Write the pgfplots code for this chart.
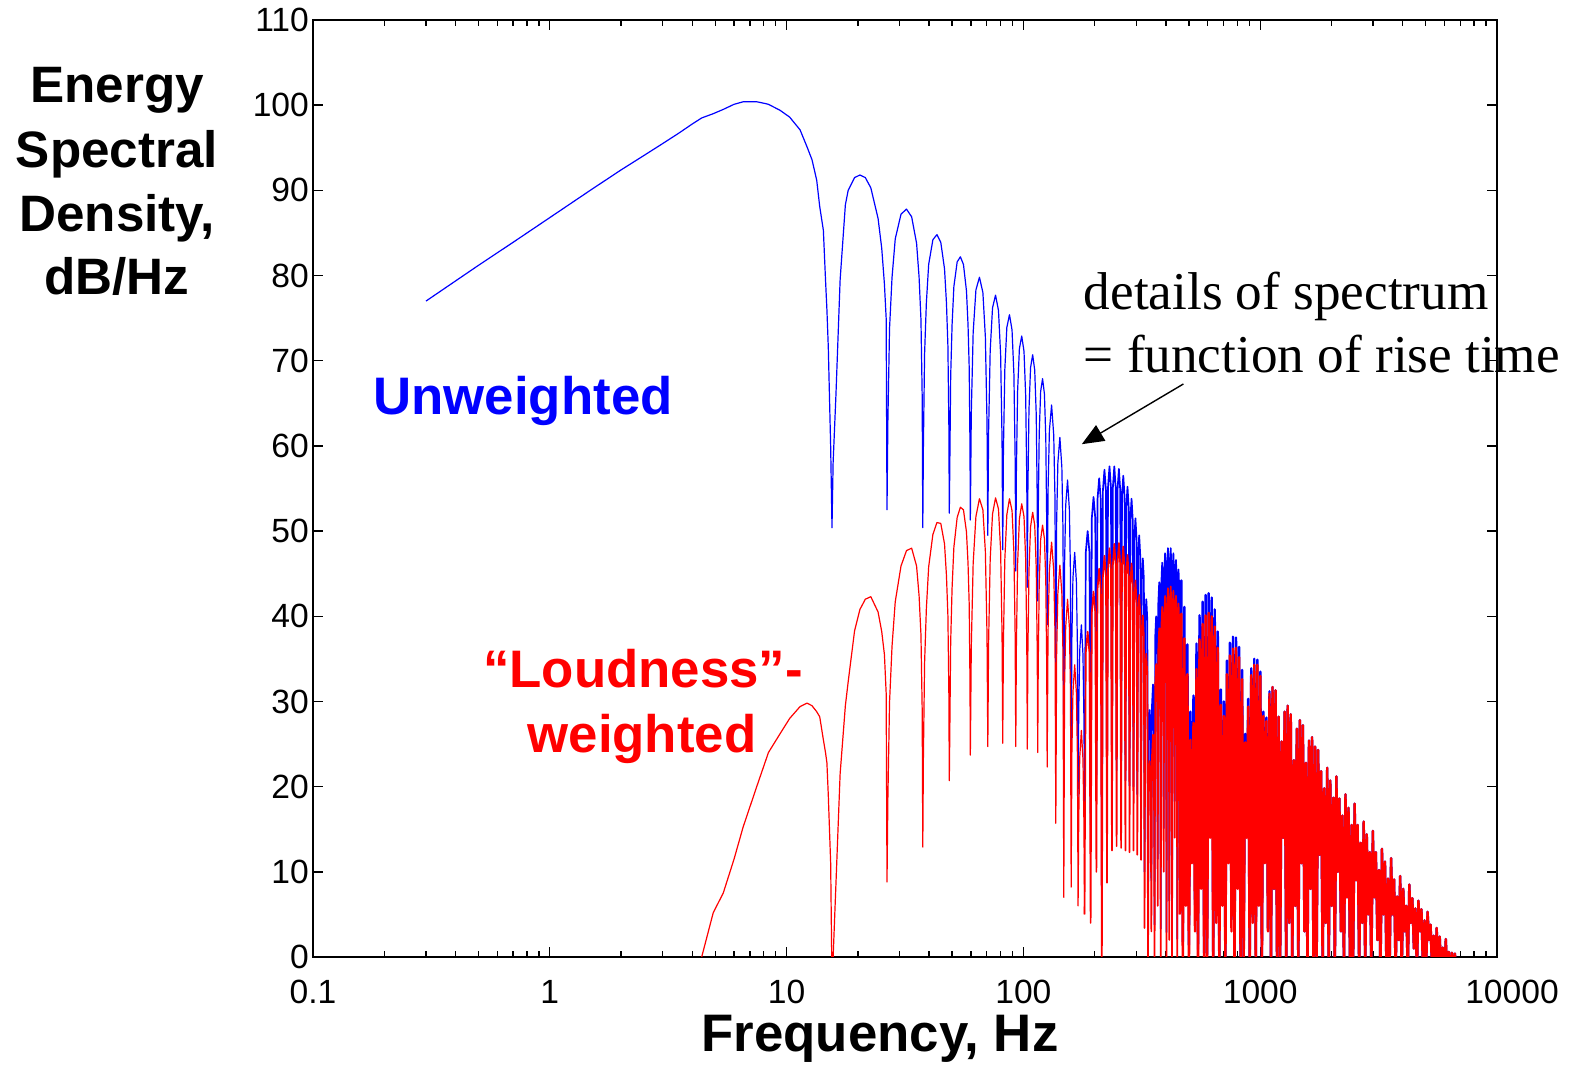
\documentclass[border=0pt]{standalone}
\usepackage{fontspec}
\setmainfont{Liberation Sans}
\newfontfamily\timesfont{Liberation Serif}
\usepackage{pgfplots}
\usepackage{pgfplotstable}
\pgfplotsset{compat=1.18}
\usetikzlibrary{arrows.meta}

% f = frequency (Hz), b = unweighted (dB/Hz), r = loudness-weighted (dB/Hz)
\pgfplotstableread{
f b r
0.3 77.0 nan
0.5 81.2 nan
0.7 83.9 nan
1 86.8 nan
1.5 90.1 nan
2 92.4 nan
2.5 94.1 nan
3 95.5 nan
3.5 96.7 nan
4 97.8 nan
4.38 98.5 0
4.9 99.0 5.2
5.4 99.5 7.5
6.0 100.1 11.5
6.56 100.4 15.3
7.48 100.4 20.0
8.1 100.2 22.8
8.38 100.1 24.0
9.38 99.4 26.2
10.3 98.6 28.0
11.4 97.1 29.4
12.2 95.1 29.8
12.8 93.6 29.5
13.4 91.2 28.8
13.8 88.1 28.2
14.3 85.3 25.5
14.6 79.5 24.0
14.8 76.0 22.8
15.0 71.6 19.0
15.35 59.9 11.0
15.55 50.4 -3
15.72 58.0 -0.1
16.16 66.0 8.6
16.83 79.5 21.5
17.71 88.3 29.5
18.2 90.0 32.3
19.37 91.5 38.3
20.4 91.8 40.8
21.5 91.5 42.0
22.68 90.3 42.3
24.34 86.7 40.5
25.22 83.2 38.2
25.89 79.0 35.5
26.33 75.0 31.0
26.55 52.5 8.8
26.77 62.8 18.5
27.21 73.8 29.9
27.88 79.8 36.5
28.76 84.3 41.7
30.42 87.2 45.9
32.08 87.8 47.7
33.73 86.9 48.0
35.39 83.8 45.9
36.27 79.8 42.4
36.94 74.8 37.8
37.38 65.8 29.0
37.6 50.4 12.9
37.82 59.8 23.3
38.26 70.8 34.5
38.93 76.8 40.9
39.81 81.3 45.8
41.47 84.2 49.6
43.13 84.8 51.0
44.78 83.9 50.9
46.44 80.8 48.5
47.32 76.8 44.8
47.99 71.8 40.1
48.43 62.8 31.3
48.65 52.1 20.7
48.87 57.2 25.9
49.31 68.2 37.0
49.98 74.2 43.3
50.86 78.7 48.1
52.52 81.6 51.6
54.18 82.2 52.8
55.83 81.3 52.5
57.49 78.2 49.9
58.37 74.2 46.2
59.04 69.2 41.4
59.48 60.2 32.5
59.7 51.3 23.7
60.25 63.8 36.4
61.36 73.3 46.2
63.02 78.3 51.7
65.23 79.8 53.8
67.44 78.0 52.5
69.09 72.8 47.6
70.2 62.8 37.9
70.75 49.5 24.7
71.3 61.7 37.0
72.41 71.2 46.7
74.07 76.2 52.0
76.28 77.7 53.9
78.49 75.9 52.6
80.14 70.7 47.7
81.25 60.7 37.9
81.8 47.8 25.1
82.35 59.4 36.9
83.46 68.9 46.6
85.12 73.9 51.9
87.33 75.4 53.8
89.54 73.6 52.4
91.19 68.4 47.5
92.3 58.4 37.7
92.85 45.3 24.7
93.4 56.9 36.4
94.51 66.4 46.1
96.17 71.4 51.4
98.38 72.9 53.2
100.59 71.1 51.7
102.24 65.9 46.7
103.35 55.9 36.8
103.9 43.4 24.4
104.45 54.7 35.7
105.56 64.2 45.3
107.22 69.2 50.5
109.43 70.7 52.2
111.64 68.9 50.7
113.29 63.7 45.7
114.4 53.7 35.8
114.95 41.8 24.0
115.5 51.9 34.1
116.61 61.4 43.8
118.27 66.4 49.0
120.48 67.9 50.7
122.69 66.1 49.1
124.34 60.9 44.1
125.45 50.9 34.2
126.0 39.0 22.3
127.1 54.8 38.3
128.76 61.8 45.4
131.53 64.8 48.7
134.29 61.3 45.4
135.95 53.8 38.1
137.05 31.3 15.7
138.15 51.0 35.5
139.81 58.0 42.7
142.58 61.0 46.0
145.34 57.5 42.7
147.0 50.0 35.4
148.1 21.5 7.0
149.2 46.0 31.6
150.86 53.0 38.7
153.63 56.0 42.0
156.39 52.5 38.7
158.05 45.0 31.3
159.15 21.8 8.2
160.25 37.5 24.0
161.91 44.5 31.1
164.68 47.5 34.3
167.44 44.0 31.0
169.1 36.5 23.6
170.2 18.8 6.0
171.3 29.0 16.3
172.96 36.0 23.4
175.73 39.0 26.6
178.49 35.5 23.2
180.15 28.0 15.8
181.25 17.1 5.0
}\specA

\pgfplotstableread{
f b r
181.25 17.1 5.0
183.45 47.5 35.7
186.78 50.0 38.2
190.1 47.5 35.7
192.3 15.5 4.0
194.5 51.5 40.4
197.83 54.0 42.9
201.15 51.5 40.4
203.35 20.9 10.0
205.55 53.7 43.1
208.88 56.2 45.6
212.2 53.7 43.1
214.4 8.3 -2
216.6 54.7 44.6
219.93 57.2 47.1
223.25 54.7 44.6
225.45 18.5 8.7
227.65 55.1 45.5
230.98 57.6 48.0
234.3 55.1 45.5
236.5 21.9 12.5
238.7 55.1 46.0
242.03 57.6 48.5
245.35 55.1 46.0
247.55 21.9 13.0
249.75 54.8 46.1
253.08 57.3 48.6
256.4 54.8 46.1
258.6 21.3 12.8
260.8 54.0 45.7
264.13 56.5 48.2
267.45 54.0 45.7
269.65 20.7 12.5
271.85 52.7 44.7
275.18 55.2 47.2
278.5 52.7 44.7
280.7 20.1 12.3
282.9 51.3 43.7
286.23 53.8 46.2
289.55 51.3 43.7
291.75 20.0 12.5
293.95 49.0 41.7
297.28 51.5 44.2
300.6 49.0 41.7
302.8 19.1 12.0
305.0 47.0 40.0
308.33 49.5 42.5
311.65 47.0 40.0
313.85 18.3 11.4
316.05 44.3 37.6
319.38 46.8 40.1
322.7 44.3 37.6
324.9 10.0 3.4
327.1 39.5 33.1
330.43 42.0 35.6
333.75 39.5 33.1
335.95 4.3 -2
338.15 26.5 20.5
341.48 29.0 23.0
344.8 26.5 20.5
347.0 9.0 3.0
349.2 29.5 23.6
352.53 32.0 26.1
355.85 29.5 23.6
358.05 3.8 -2
360.25 37.5 31.9
363.58 40.0 34.4
366.9 37.5 31.9
369.1 11.5 6.0
371.3 41.5 36.1
374.63 44.0 38.6
377.95 41.5 36.1
380.15 3.3 -2
382.35 43.8 38.6
385.68 46.3 41.1
389.0 43.8 38.6
391.2 15.1 10.0
393.4 44.9 39.9
396.73 47.4 42.4
400.05 44.9 39.9
402.25 2.9 -2
404.45 45.5 40.8
407.78 48.0 43.3
411.1 45.5 40.8
413.3 6.6 2.0
415.5 45.5 41.0
418.83 48.0 43.5
422.15 45.5 41.0
424.35 2.5 -2
426.55 44.9 40.5
429.88 47.4 43.0
433.2 44.9 40.5
435.4 18.3 14.0
437.6 44.1 39.9
440.93 46.6 42.4
444.25 44.1 39.9
446.45 2.1 -2
448.65 43.0 39.0
451.98 45.5 41.5
455.3 43.0 39.0
457.5 9.0 5.0
}\specB

\pgfplotstableread{
f b r
457.5 9.0 5.0
464.3 44.2 40.3
471.2 1.8 -2
478.2 41.1 37.4
485.4 9.6 6
492.6 36.7 33.2
500.0 1.4 -2
507.4 28.8 25.5
515.0 14.2 11
522.7 30.7 27.5
530.4 6.1 3
538.3 36.8 33.8
546.3 0.9 -2
554.4 40.1 37.3
562.7 10.7 8
571.1 41.7 39.1
579.6 0.5 -2
588.2 42.5 40.1
597.0 0.3 -2
605.9 42.7 40.4
614.9 16.2 14
624.1 42.2 40.0
633.3 0.1 -2
642.7 40.8 38.8
652.3 6.0 4
662.0 38.2 36.3
671.9 -0.2 -2
681.9 31.4 29.6
692.1 7.8 6
702.4 30.0 28.3
712.9 -0.4 -2
723.5 34.8 33.2
734.3 12.5 11
745.2 36.9 35.4
756.3 4.4 3
767.6 37.6 36.2
779.0 -0.7 -2
790.6 37.5 36.3
802.4 9.2 8
814.4 36.4 35.2
826.4 -0.9 -2
838.7 33.7 32.6
851.2 -1.0 -2
863.9 26.2 25.2
876.7 14.9 14
889.8 30.3 29.4
903.0 -1.2 -2
916.5 33.9 33.1
930.1 4.7 4
943.9 35.0 34.3
958.0 -1.4 -2
972.3 34.9 34.3
986.8 6.6 6
1001.5 33.5 33.0
1016.4 -1.5 -2
1031.5 28.8 28.3
1046.9 11.4 11
1062.5 28.1 27.7
1078.3 3.3 3
1094.4 31.2 30.9
1110.6 -1.8 -2
1127.1 31.7 31.7
1143.9 8 8
1160.9 31.3 31.3
1178.2 -2 -2
1195.8 28.2 28.2
1213.6 -2 -2
1231.7 25.3 25.3
1250.0 14 14
1268.6 28.8 28.8
1287.5 -2 -2
1306.7 29.5 29.5
1326.1 4 4
1345.9 28.5 28.5
1365.9 -2 -2
1386.3 23.1 23.1
1406.9 6 6
1427.9 26.8 26.8
1449.1 -2 -2
1470.7 27.8 27.8
1492.6 11 11
1514.8 27.2 27.2
1537.4 3 3
1560.3 22.8 22.8
1583.5 -2 -2
1607.1 25.4 25.4
1631.0 8 8
1655.3 25.8 25.8
1679.9 -2 -2
1704.9 24.7 24.7
1730.3 -2 -2
1756.1 24.3 24.3
1782.2 12 12
1808.8 21.8 21.8
1835.7 -2 -2
1863.1 19.8 19.8
1890.8 4 4
1919.0 22.2 22.2
1947.5 -2 -2
1976.5 20.7 20.7
2005.9 6 6
2035.8 18.7 18.7
2066.1 -2 -2
2096.9 21.2 21.2
2128.1 10 10
2159.8 18.6 18.6
2191.9 3 3
2224.6 16.6 16.6
2257.7 -2 -2
2291.3 19.1 19.1
2325.4 7 7
2360.0 17.5 17.5
2395.2 -2 -2
2430.9 15.5 15.5
2467.1 -2 -2
2503.9 18.0 18.0
2541.1 9 9
2579.0 15.5 15.5
2617.3 -2 -2
2656.3 13.4 13.4
2695.8 4 4
2736.0 15.9 15.9
2776.7 -2 -2
2818.1 14.4 14.4
2860.0 5 5
2902.6 12.3 12.3
2945.8 -2 -2
2989.7 14.8 14.8
3034.2 7 7
3079.4 12.3 12.3
3125.2 2 2
3171.8 10.2 10.2
3219.0 -2 -2
3267.0 12.7 12.7
3315.6 5 5
3365.0 11.2 11.2
3415.0 -2 -2
3465.9 9.2 9.2
3517.5 -2 -2
3569.9 11.6 11.6
3623.0 5 5
3677.0 9.1 9.1
3731.7 -2 -2
3787.3 7.1 7.1
3843.6 2 2
3900.9 9.5 9.5
3958.9 -2 -2
4017.9 8.0 8.0
4077.7 3 3
4138.5 6.0 6.0
4200.0 -2 -2
4262.6 8.5 8.5
4326.0 4 4
4390.5 6.9 6.9
4455.8 1 1
4522.2 5.7 5.7
4589.5 -2 -2
4657.9 6.6 6.6
4727.2 3 3
4797.6 5.6 5.6
4869.0 -2 -2
4941.5 4.3 4.3
5015.1 -2 -2
5089.8 5.3 5.3
5165.5 2 2
5242.5 3.8 3.8
5320.5 -2 -2
5399.8 2.5 2.5
5480.1 -2 -2
5561.8 3.4 3.4
5644.5 -2 -2
5728.6 2.4 2.4
5813.8 -2 -2
5900.4 1.1 1.1
5988.2 -2 -2
6077.4 2.1 2.1
6167.9 -2 -2
6259.8 0.6 0.6
6352.9 -2 -2
6447.6 0.5 0.5
6543.5 -2 -2
6641.0 0.4 0.4
6739.8 -2 -2
}\specC

\begin{document}
\begin{tikzpicture}
\useasboundingbox (-78.25pt,-27.75pt) rectangle (315.25pt,239.25pt);
\begin{axis}[
  at={(0pt,0pt)}, anchor=south west,
  scale only axis, width=296pt, height=234.25pt,
  xmode=log, xmin=0.1, xmax=10000, ymin=0, ymax=110,
  xtick={0.1,1,10,100,1000,10000},
  xticklabels={0.1,1,10,100,1000,\hspace*{7.5pt}10000},
  minor xtick={0.2,0.3,0.4,0.5,0.6,0.7,0.8,0.9,2,3,4,5,6,7,8,9,20,30,40,50,60,70,80,90,200,300,400,500,600,700,800,900,2000,3000,4000,5000,6000,7000,8000,9000},
  ytick={0,10,...,110},
  /pgf/number format/assume math mode=true,
  tick label style={font=\fontsize{8.4}{10}\selectfont},
  xticklabel style={yshift=-2.2pt},
  yticklabel style={xshift=2.5pt},
  major tick length=2.5pt, minor tick length=1.5pt,
  tick style={black, line width=0.35pt},
  axis line style={line width=0.5pt},
]
\addplot[blue, line width=0.3pt, line join=round, mark=none] table[x=f,y=b] {\specA};
\addplot[blue, line width=0.42pt, line join=round, mark=none] table[x=f,y=b] {\specB};
\addplot[blue, line width=0.6pt, line join=round, mark=none] table[x=f,y=b] {\specC};
\addplot[red, line width=0.3pt, line join=round, mark=none] table[x=f,y=r] {\specA};
\addplot[red, line width=0.42pt, line join=round, mark=none] table[x=f,y=r] {\specB};
\addplot[red, line width=0.6pt, line join=round, mark=none] table[x=f,y=r] {\specC};
\end{axis}
\begin{scope}[every node/.style={anchor=base, inner sep=0pt, font=\bfseries\fontsize{12.8}{16}\selectfont}]
\node at (-49pt,213.5pt) {Energy};
\node at (-49pt,197.25pt) {Spectral};
\node at (-49pt,181.25pt) {Density,};
\node at (-49pt,165.5pt) {dB/Hz};
\end{scope}
\node[anchor=base, inner sep=0pt, font=\bfseries\fontsize{13.2}{16}\selectfont] at (141.75pt,-23.75pt) {Frequency, Hz};
\node[anchor=base, inner sep=0pt, text=blue, font=\bfseries\fontsize{13.2}{16}\selectfont] at (52.5pt,135.5pt) {Unweighted};
\node[anchor=base, inner sep=0pt, text=red, font=\bfseries\fontsize{13.2}{16}\selectfont] at (82.5pt,67.25pt) {“Loudness”-};
\node[anchor=base, inner sep=0pt, text=red, font=\bfseries\fontsize{13.2}{16}\selectfont] at (82.25pt,51pt) {weighted};
\node[anchor=base west, inner sep=0pt, font=\timesfont\fontsize{13.3}{16}\selectfont] at (192.5pt,161.75pt) {details of spectrum};
\node[anchor=base west, inner sep=0pt, font=\timesfont\fontsize{13.3}{16}\selectfont] at (192.5pt,146pt) {= function of rise time};
\draw[line width=0.35pt, -{Triangle[length=5.5pt,width=4.5pt]}] (217.6pt,143.25pt) -- (192.2pt,128.2pt);
\end{tikzpicture}
\end{document}
